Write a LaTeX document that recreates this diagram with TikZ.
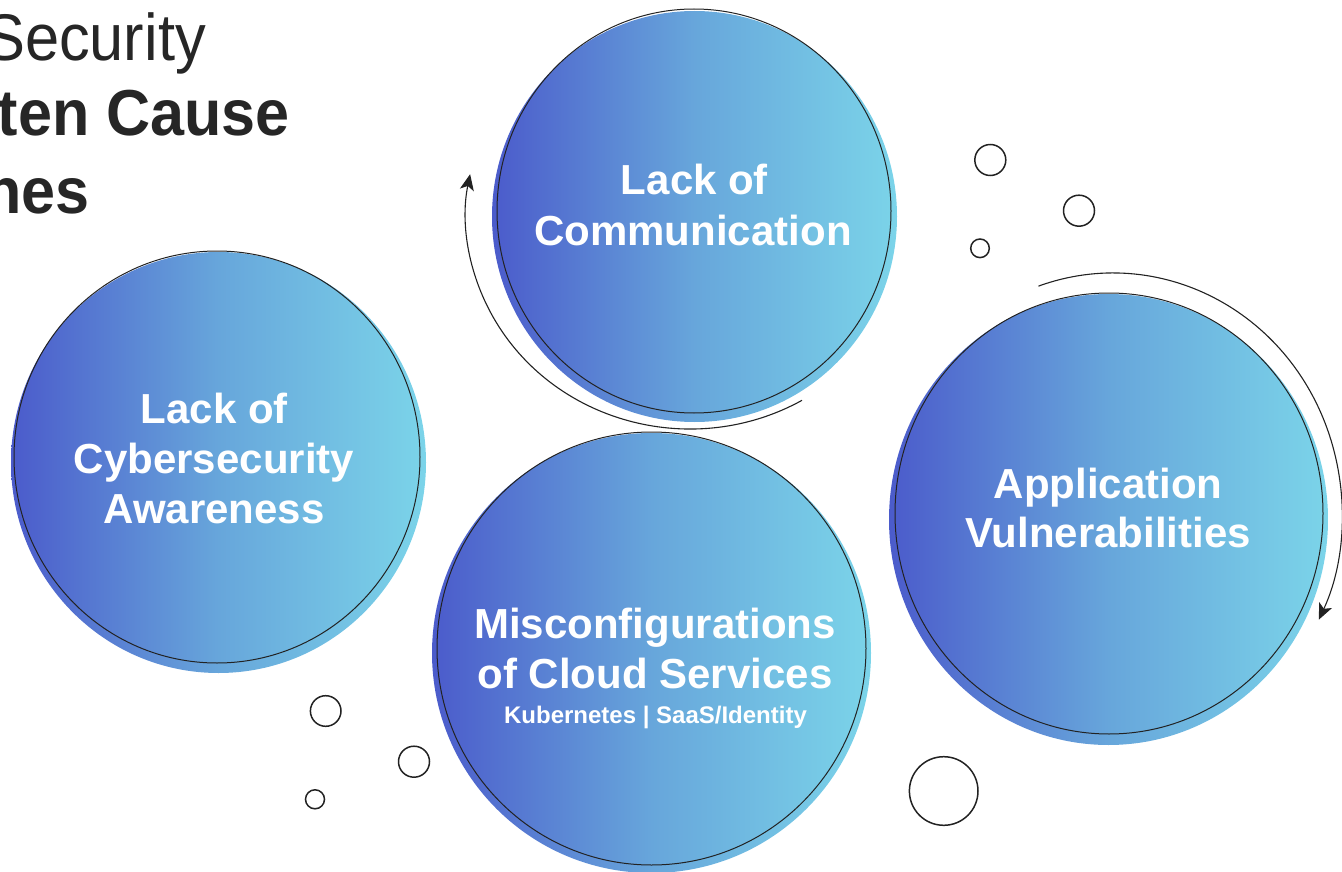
\documentclass[tikz,border=0pt]{standalone}
\usepackage{fontspec}
\setmainfont{Liberation Sans}
\usetikzlibrary{arrows.meta,calc}
\definecolor{gA}{HTML}{4B5BCB}
\definecolor{gB}{HTML}{67A6DB}
\definecolor{gC}{HTML}{7BD4E9}
\definecolor{ink}{HTML}{222222}
\definecolor{titlecol}{HTML}{262626}
\begin{document}
\begin{tikzpicture}[x=1pt,y=-1pt,
  blob/.style={left color=gA, right color=gC, middle color=gB},
  rim/.style={draw=ink, line width=1pt},
  bubble/.style={draw=ink, line width=1.5pt},
  looparrow/.style={draw=ink, line width=1.1pt, -{Stealth[length=16pt,width=14pt,inset=4pt]}},
  lbl/.style={text=white, font=\bfseries\fontsize{42}{50}\selectfont, inner sep=0pt, anchor=base},
  sublbl/.style={text=white, font=\bfseries\fontsize{24}{28}\selectfont, inner sep=0pt, anchor=base},
  ttl/.style={text=titlecol, inner sep=0pt, anchor=base east},
]
\useasboundingbox (0,0) rectangle (1342,872);

% centres
\coordinate (f1) at (218.5,462.5);
\coordinate (f2) at (694.5,216.5);
\coordinate (f3) at (651.5,653);
\coordinate (f4) at (1108.5,519.5);
\coordinate (o1) at (217,457);
\coordinate (o2) at (694,211);
\coordinate (o3) at (651.5,648.5);
\coordinate (o4) at (1109,513.5);
\coordinate (a2) at (690,215);
\coordinate (a4) at (1113,514);

% gradient discs
\shade[blob] (f1) ellipse [x radius=207.5, y radius=210.5];
\shade[blob] (f2) ellipse [x radius=202.5, y radius=205.5];
\shade[blob] (f3) ellipse [x radius=219.5, y radius=220];
\shade[blob] (f4) ellipse [x radius=219.5, y radius=225.5];

% outline rims
\draw[rim] (o1) ellipse [x radius=203, y radius=206];
\draw[rim] (o2) ellipse [x radius=197, y radius=202];
\draw[rim] (o3) ellipse [x radius=214.5, y radius=216.5];
\draw[rim] (o4) ellipse [x radius=214, y radius=220.5];

% cycle arrows
\draw[looparrow] (a2) ++(60:224 and 214) arc[start angle=60, end angle=191, x radius=224, y radius=214];
\draw[looparrow] (a4) ++(-109:229 and 241) arc[start angle=-109, end angle=26, x radius=229, y radius=241];

% small bubbles
\draw[bubble] (325.7,711) circle (15.3);
\draw[bubble] (414,761.7) circle (15.5);
\draw[bubble] (315,799.3) circle (9.5);
\draw[bubble] (990.3,160) circle (15.5);
\draw[bubble] (1079,210.7) circle (15.5);
\draw[bubble] (980,248.3) circle (9.3);
\draw[bubble] (943.7,791) circle (34.3);

% title (cut at the left edge)
\node[ttl, font=\fontsize{66}{76}\selectfont] (t1) at (206,61) {\scalebox{0.93}[1]{Security}};
\node[ttl, font=\bfseries\fontsize{65}{76}\selectfont] (t2) at (290,136) {\scalebox{0.94}[1]{ten Cause}};
\node[ttl, font=\bfseries\fontsize{65}{76}\selectfont] (t3) at (90,213) {\scalebox{0.94}[1]{nes}};

% labels
\node[lbl] (c1a) at (214.5,423) {Lack of};
\node[lbl] (c1b) at (214,473) {Cybersecurity};
\node[lbl] (c1c) at (214,523) {Awareness};

\node[lbl] (c2a) at (694.5,195) {Lack of};
\node[lbl] (c2b) at (693,245) {Communication};

\node[lbl] (c3a) at (655,638) {Misconfigurations};
\node[lbl] (c3b) at (655,688) {of Cloud Services};
\node[sublbl] (c3c) at (655.5,723) {Kubernetes | SaaS/Identity};

\node[lbl] (c4a) at (1108,498) {Application};
\node[lbl] (c4b) at (1108,547) {Vulnerabilities};
\end{tikzpicture}
\end{document}
